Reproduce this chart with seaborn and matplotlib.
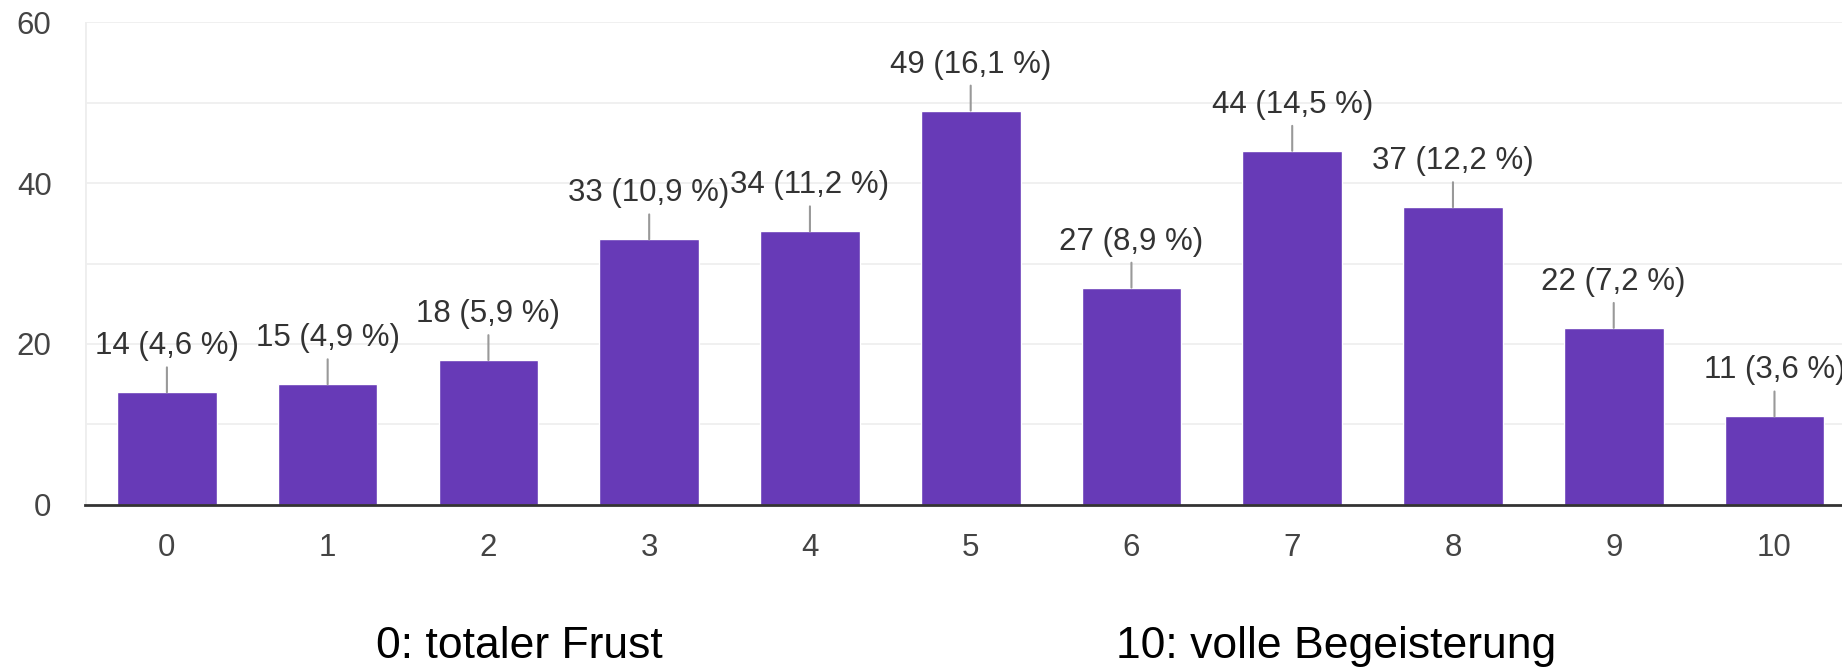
import matplotlib
matplotlib.use("Agg")
import matplotlib.pyplot as plt
import seaborn as sns
import pandas as pd

# Survey answers on a 0-10 scale
categories = [str(i) for i in range(11)]
counts = [14, 15, 18, 33, 34, 49, 27, 44, 37, 22, 11]
percents = [4.6, 4.9, 5.9, 10.9, 11.2, 16.1, 8.9, 14.5, 12.2, 7.2, 3.6]
y_ticks = [0, 20, 40, 60]
left_note = "0: totaler Frust"
right_note = "10: volle Begeisterung"

sns.set_style("white")
plt.rcParams['font.family'] = ['Liberation Sans', 'DejaVu Sans']

df = pd.DataFrame({'score': categories, 'count': counts})

fig = plt.figure(figsize=(18.42, 6.71), dpi=100)
ax = fig.add_axes([0.0461, 0.2474, 0.9539, 0.7198])

sns.barplot(data=df, x='score', y='count', color='#673ab7', width=0.62,
            saturation=1, ax=ax, zorder=3)

# light grid every 10
for g in range(10, 61, 10):
    ax.axhline(g, color='#eeeeee', lw=1.2, zorder=0)
ax.axvline(-0.51, color='#eeeeee', lw=2, zorder=0)

ax.set_ylim(0, 60)
ax.set_xlim(-0.51, 10.42)
ax.set_yticks(y_ticks)
ax.set_xlabel('')
ax.set_ylabel('')
ax.tick_params(axis='both', length=0, labelsize=22.5, labelcolor='#444444')
ax.tick_params(axis='y', pad=24)
ax.tick_params(axis='x', pad=20)

for s in ['top', 'right', 'left']:
    ax.spines[s].set_visible(False)
ax.spines['bottom'].set_color('#333333')
ax.spines['bottom'].set_linewidth(2)
ax.spines['bottom'].set_zorder(4)

for i, (c, p) in enumerate(zip(counts, percents)):
    label = f"{c} ({str(p).replace('.', ',')} %)"
    ax.annotate(label, xy=(i, c), xytext=(0, 31), textcoords='offset pixels',
                ha='center', va='bottom', fontsize=22.5, color='#333333',
                arrowprops=dict(arrowstyle='-', color='#999999', lw=1.5,
                                shrinkA=2, shrinkB=0),
                annotation_clip=False, zorder=5)

note_font = ['Liberation Sans Narrow', 'Liberation Sans', 'DejaVu Sans']
fig.text(0.204, 0.019, left_note, fontsize=32, family=note_font,
         color='black', va='baseline', ha='left')
fig.text(0.606, 0.019, right_note, fontsize=32, family=note_font,
         color='black', va='baseline', ha='left')

fig.savefig('out.png', dpi=100)
